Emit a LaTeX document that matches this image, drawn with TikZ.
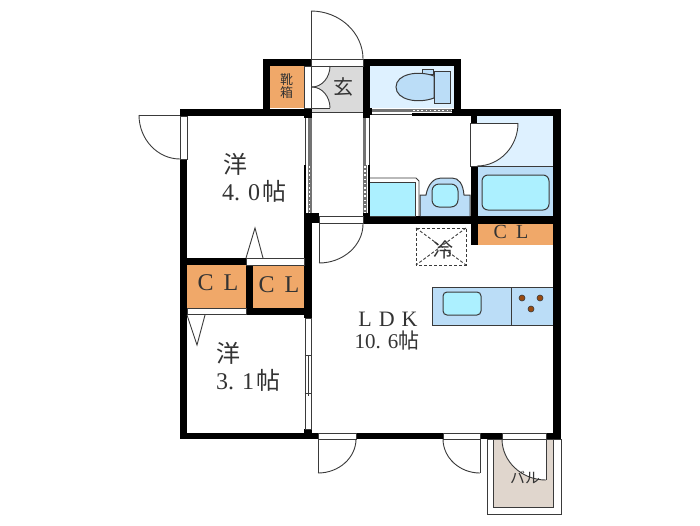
\documentclass[tikz,border=0pt]{standalone}
\usepackage{fontspec}
\setmainfont{Liberation Serif}
\newfontfamily\jpfont{Noto Sans CJK JP}
\usetikzlibrary{positioning}
\definecolor{wetblue}{HTML}{BBDDF7}
\definecolor{paleblue}{HTML}{DEF1FF}
\definecolor{aquablue}{HTML}{ACF0FF}
\definecolor{closetorange}{HTML}{F0A869}
\definecolor{baltan}{HTML}{E0D6CD}
\definecolor{hallgrey}{HTML}{DADADA}
\definecolor{linegrey}{HTML}{3A3A3A}
\definecolor{hobbrown}{HTML}{9A4A10}
\tikzset{
    wall/.style={fill=black},
    opening/.style={draw=linegrey, fill=white, line width=0.7pt},
    thinline/.style={draw=linegrey, line width=0.9pt},
    fixture/.style={draw=linegrey, line width=1pt, fill=wetblue},
    basin/.style={draw=linegrey, line width=1pt, fill=aquablue, rounded corners=4pt},
    closet/.style={fill=closetorange},
    dotbar/.style={draw=white, line width=1.4pt, dash pattern=on 1.6pt off 2.6pt},
    txt/.style={inner sep=0pt, text=black!80, font=\fontsize{#1}{#1}\selectfont},
    txt/.default=24
}
% quarter curve, flat at its start and upright at its end
\newcommand{\doorarc}[4]{(#1,#2) .. controls ({#1+.55*(#3-#1)},#2) and (#3,{#2+.45*(#4-#2)}) .. (#3,#4)}

\begin{document}
\begin{tikzpicture}[x=1pt, y=-1pt]
    \useasboundingbox (0,0) rectangle (700,525);

    % Balcony - drawn first, the wall sits over it
    \draw [thinline] (487,439) rectangle (561,514);
    \draw [thinline, fill=baltan] (493,439) rectangle (553,507);
    \fill [white] (546,439) -- (546,480) .. controls (522,480) and (502,462) .. (502,439) -- cycle;
    \draw [thinline] (546,439) -- (546,480);
    \draw [thinline] \doorarc{546}{480}{502}{439};
    \node [txt=15] (balcony) at (525,478) {\jpfont バル};

    % Room floors
    \fill [paleblue] (370,66) rectangle (454,108);
    \fill [paleblue] (477,116) rectangle (553,166);
    \fill [wetblue] (477,166) rectangle (553,216);
    \fill [hallgrey] (312,66) rectangle (363,112);
    \fill [closet] (270,66) rectangle (304,108);
    \fill [closet] (187,265) rectangle (246,308);
    \fill [closet] (253,265) rectangle (304,308);
    \fill [closet] (477,224) rectangle (553,245);

    % Walls
    \fill [wall] (263,59) rectangle (270,116);
    \fill [wall] (263,59) rectangle (311,66);
    \fill [wall] (180,109) rectangle (312,116);
    \fill [wall] (304,108) rectangle (312,118);
    \fill [wall] (363,59) rectangle (461,66);
    \fill [wall] (363,59) rectangle (370,118);
    \fill [wall] (363,108) rectangle (372,115);
    \fill [wall] (454,59) rectangle (461,116);
    \fill [wall] (452,108.5) rectangle (561,116);
    \fill [wall] (553,108.5) rectangle (561,439);
    \fill [wall] (180,159) rectangle (187,439);
    \fill [wall] (470.5,108.5) rectangle (477,123);
    \fill [wall] (470.5,166) rectangle (478,245);
    \fill [wall] (363,216) rectangle (553,224);
    \fill [wall] (363,213) rectangle (370,224);
    \fill [wall] (304,213) rectangle (319,223);
    \fill [wall] (304,213) rectangle (312,318);
    \fill [wall] (187,258) rectangle (246,265);
    \fill [wall] (246,265) rectangle (253,315);
    \fill [wall] (246,308) rectangle (312,315);
    \fill [wall] (304,429) rectangle (312,439);
    \fill [wall] (180,432.5) rectangle (318,439);
    \fill [wall] (356,432.5) rectangle (443,439);
    \fill [wall] (480,432.5) rectangle (502,439);
    \fill [wall] (546,432.5) rectangle (561,439);

    % Door openings in the walls
    \draw [opening] (311,59) rectangle (363,66);
    \draw [opening] (304.5,66) rectangle (311.5,108);
    \draw [opening] (180.5,116) rectangle (187,159);
    \draw [opening] (470.5,123) rectangle (477,166);
    \draw [opening] (319,216) rectangle (363,223);
    \draw [opening] (246,258) rectangle (304,265);
    \draw [opening] (187,308) rectangle (246,314.5);
    \draw [opening] (318,433) rectangle (356,439);
    \draw [opening] (443,433) rectangle (480,439);
    \draw [opening] (502,433) rectangle (546,439);

    % Swing doors
    \draw [thinline] (311,59) -- (311,11);
    \draw [thinline] \doorarc{311}{11}{363}{59};
    \draw [thinline] (180,115) -- (139,115);
    \draw [thinline] \doorarc{180}{159}{139}{115};
    \draw [thinline] (319,223) -- (319,263);
    \draw [thinline] \doorarc{319}{263}{363}{224};
    \draw [thinline] (318,439) -- (318,473);
    \draw [thinline] \doorarc{318}{473}{356}{439};
    \draw [thinline] (480,439) -- (480,473);
    \draw [thinline] \doorarc{480}{473}{443}{439};

    % Bath door sweeps over the pale floor
    \fill [white] (477,123) -- (518,123) .. controls (518,147) and (499,166) .. (477,166) -- cycle;
    \draw [thinline] (477,123) -- (518,123);
    \draw [thinline] \doorarc{477}{166}{518}{123};

    % Shoe box double door
    \fill [white] (312,66) -- (330,66) .. controls (330,78) and (322,87) .. (312,87) .. controls (322,87) and (330,96) .. (330,108) -- (312,108) -- cycle;
    \draw [thinline] (312,66) -- (330,66);
    \draw [thinline] \doorarc{312}{87}{330}{66};
    \draw [thinline] (312,108) -- (330,108);
    \draw [thinline] \doorarc{312}{87}{330}{108};
    \draw [thinline] (312,112) -- (363,112);

    % Closet triangles
    \draw [thinline] (246,258) -- (255,228) -- (263,258);
    \draw [thinline] (187,315) -- (197,345) -- (205,315);

    % Sliding doors along the corridor
    \fill [white] (304.5,118) rectangle (311.5,213);
    \fill [white] (363,118) rectangle (369.5,213);
    \fill [black!55] (308,118) rectangle (311.5,165);
    \fill [black!55] (363,118) rectangle (366,165);
    \draw [thinline] (305,118) -- (305,165);
    \draw [thinline] (369,118) -- (369,165);
    \fill [wall] (304,165) rectangle (306,213);
    \fill [wall] (368,165) rectangle (370,213);
    \fill [black!55] (308,165) rectangle (311.5,213);
    \fill [black!55] (363,165) rectangle (366.5,213);
    \draw [dotbar] (309.7,166) -- (309.7,213);
    \draw [dotbar] (364.8,166) -- (364.8,213);

    % Sliding door of the toilet
    \fill [white] (372,108) rectangle (452,115);
    \fill [black!55] (372,108.5) rectangle (452,112);
    \draw [thinline] (372,114.5) -- (412,114.5);
    \fill [wall] (412,113) rectangle (452,115.5);
    \draw [dotbar] (413,110.5) -- (452,110.5);

    % Sliding door of the lower room
    \draw [opening] (305,318) rectangle (311.5,429);
    \draw [thinline] (308,355) -- (308,396);
    \draw [thinline] (304.5,355) -- (312,355);
    \draw [thinline] (304.5,393) -- (312,393);

    % Toilet
    \draw [fixture] (422,69) rectangle (433,74);
    \draw [fixture] (434,76) .. controls (418,70) and (396,74) .. (396,87) .. controls (396,100) and (418,104) .. (434,98) -- cycle;
    \draw [fixture] (434,71) rectangle (450,103);

    % Washing machine pan and wash basin
    \draw [thinline] (370,178) -- (416,178) -- (419,181) -- (419,216);
    \draw [draw=linegrey, line width=1pt, fill=aquablue] (370,182) -- (415,182) -- (415,216) -- (370,216);
    \draw [fixture] (420,216) -- (420,195) -- (426,195) .. controls (428,184) and (434,178) .. (441,178) -- (452,178) .. controls (459,178) and (463,184) .. (464,195) -- (470,195) -- (470,216);
    \draw [basin, rounded corners=7pt] (432,184) rectangle (458,207);

    % Bath
    \draw [thinline] (477,166) -- (553,166);
    \draw [basin, rounded corners=6pt] (482,175) rectangle (549,210);

    % Fridge
    \draw [thinline, densely dashed] (416,228) rectangle (466,265);
    \draw [thinline, densely dashed] (416,228) -- (466,265);
    \draw [thinline, densely dashed] (466,228) -- (416,265);

    % Kitchen counter
    \draw [fixture] (553,287) -- (432,287) -- (432,325) -- (553,325);
    \draw [thinline] (511,287) -- (511,325);
    \draw [basin] (443,292) rectangle (481,315);
    \foreach \hx/\hy in {522/298, 540/298, 531/309}
        \draw [draw=linegrey, fill=hobbrown, line width=0.6pt] (\hx,\hy) circle (3pt);

    % Labels
    \node [txt, anchor=west] (western1) at (223,164) {\jpfont 洋};
    \node [txt, anchor=west] (area1) at (222,191.5) {4.\hspace{8pt}0\hspace{2pt}\jpfont 帖};
    \node [txt, anchor=west] (western2) at (216,353) {\jpfont 洋};
    \node [txt, anchor=west] (area2) at (216,380) {3.\hspace{8pt}1\hspace{2pt}\jpfont 帖};
    \node [txt=22] (ldk) at (388,319) {L\hspace{7pt}D\hspace{7pt}K};
    \node [txt=21] (area3) at (387,341) {10. 6\jpfont 帖};
    \node [txt=24] (closet1) at (218,283) {C\hspace{10pt}L};
    \node [txt=24] (closet2) at (279,285) {C\hspace{10pt}L};
    \node [txt=20] (closet3) at (511,232) {C\hspace{9pt}L};
    \node [txt=13, align=center] (shoes) at (286.5,86) {\jpfont 靴\\[0pt]\jpfont 箱};
    \node [txt=20] (entry) at (343,87) {\jpfont 玄};
    \node [txt=20] (fridge) at (443,250) {\jpfont 冷};
\end{tikzpicture}
\end{document}
